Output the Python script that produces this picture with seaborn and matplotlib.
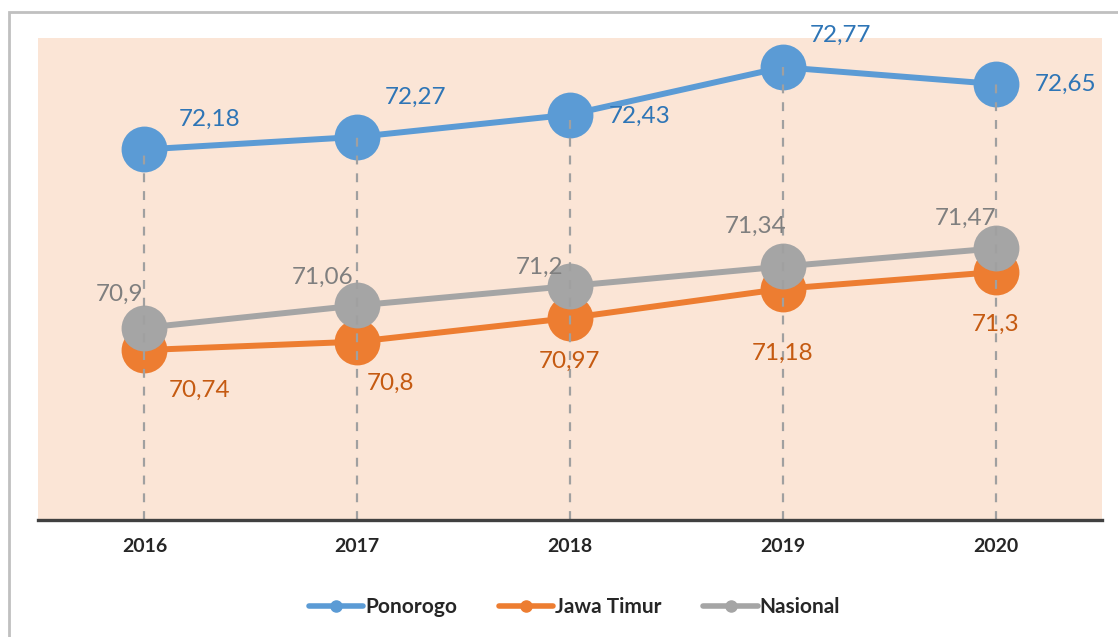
import matplotlib
matplotlib.use("Agg")
import matplotlib.pyplot as plt
from matplotlib.lines import Line2D
from matplotlib.patches import Rectangle
import seaborn as sns
import pandas as pd

# Data
tahun = [2016, 2017, 2018, 2019, 2020]
ponorogo = [72.18, 72.27, 72.43, 72.77, 72.65]
jawa_timur = [70.74, 70.80, 70.97, 71.18, 71.30]
nasional = [70.90, 71.06, 71.20, 71.34, 71.47]
wilayah = ["Ponorogo", "Jawa Timur", "Nasional"]

warna = {"Ponorogo": "#5B9BD5", "Jawa Timur": "#ED7D31", "Nasional": "#A5A5A5"}
warna_label = {"Ponorogo": "#2E75B6", "Jawa Timur": "#C55A11", "Nasional": "#7F7F7F"}

df = pd.DataFrame({
    "tahun": tahun * 3,
    "nilai": ponorogo + jawa_timur + nasional,
    "wilayah": sum([[w] * len(tahun) for w in wilayah], []),
})

sns.set_style("white")
plt.rcParams["font.family"] = ["Lato", "DejaVu Sans"]

fig = plt.figure(figsize=(11.18, 6.37), dpi=100)
fig.patches.append(Rectangle((9 / 1118, -0.1), 2, (637 - 12) / 637 + 0.1,
                             transform=fig.transFigure, fill=False,
                             edgecolor="#C0C0C0", lw=2))
ax = fig.add_axes([38 / 1118, 117 / 637, 1064 / 1118, 482 / 637])
ax.set_facecolor("#FBE5D6")

sns.lineplot(data=df, x="tahun", y="nilai", hue="wilayah", palette=warna,
             marker="o", markersize=33, markeredgewidth=0, linewidth=4.3,
             legend=False, ax=ax, zorder=3)

ax.set_xlim(2015.5, 2020.5)
ax.set_ylim(69.52, 72.98)

# garis putus-putus ke sumbu
puncak = [max(v) for v in zip(ponorogo, jawa_timur, nasional)]
ax.vlines(tahun, 69.52, puncak, colors="#A0A0A0", linestyles=(0, (4, 4)),
          lw=1.6, zorder=4)

# label nilai (offset dalam piksel)
offset = {
    "Ponorogo": [(65, 30), (58, 40), (70, -2), (58, 32), (70, 0)],
    "Jawa Timur": [(55, -40), (33, -42), (0, -43), (0, -65), (0, -52)],
    "Nasional": [(-25, 33), (-35, 28), (-30, 19), (-27, 40), (-30, 30)],
}
seri = {"Ponorogo": ponorogo, "Jawa Timur": jawa_timur, "Nasional": nasional}
for w in wilayah:
    for t, v, (dx, dy) in zip(tahun, seri[w], offset[w]):
        teks = f"{v:g}".replace(".", ",")
        ax.annotate(teks, (t, v), xytext=(dx * 0.72, dy * 0.72),
                    textcoords="offset points", ha="center", va="center",
                    fontsize=17.5, color=warna_label[w], zorder=5)

ax.set_xticks(tahun)
ax.set_xticklabels([str(t) for t in tahun], fontsize=14, fontweight="bold")
ax.set_yticks([])
ax.set_xlabel("")
ax.set_ylabel("")
ax.tick_params(axis="x", length=0, pad=13)
for s in ["top", "left", "right"]:
    ax.spines[s].set_visible(False)
ax.spines["bottom"].set_color("#404040")
ax.spines["bottom"].set_linewidth(2.4)
ax.spines["bottom"].set_zorder(6)

handles = [Line2D([0], [0], color=warna[w], lw=4, marker="o", markersize=8)
           for w in wilayah]
fig.legend(handles, wilayah, loc="center", bbox_to_anchor=(0.514, 0.047),
           ncol=3, frameon=False, handlelength=2.6, handletextpad=0.1,
           columnspacing=2.0, prop={"size": 15, "weight": "bold"})

fig.savefig("out.png", dpi=100)
